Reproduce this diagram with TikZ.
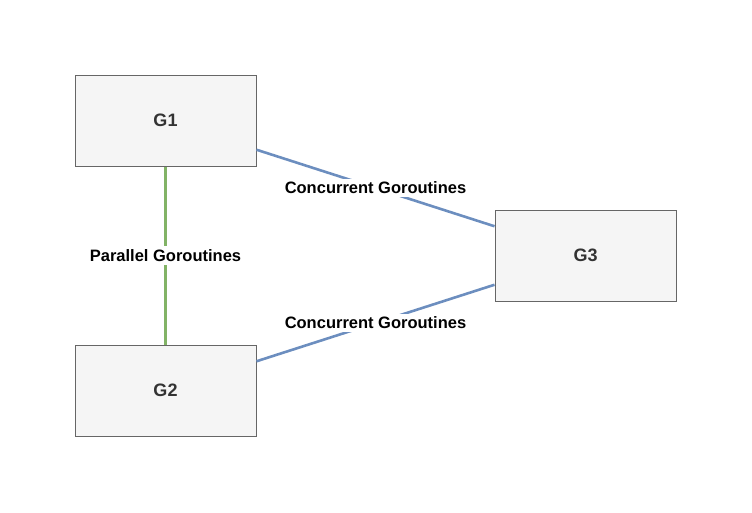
\documentclass[tikz,border=0pt]{standalone}
\usepackage{fontspec}
\setmainfont{Liberation Sans}
\usepackage{tikz}
\definecolor{boxfill}{HTML}{F5F5F5}
\definecolor{boxline}{HTML}{666666}
\definecolor{boxtext}{HTML}{333333}
\definecolor{concline}{HTML}{6C8EBF}
\definecolor{parline}{HTML}{82B366}

\begin{document}
\begin{tikzpicture}[x=1pt,y=-1pt]
	\tikzstyle{goroutine}=[rectangle,draw=boxline,fill=boxfill,line width=1pt,minimum width=181pt,minimum height=91pt,inner sep=0pt,text=boxtext,font=\fontsize{18}{20}\selectfont\bfseries]
	\tikzstyle{concurrent}=[draw=concline,line width=2.6pt]
	\tikzstyle{parallel}=[draw=parline,line width=2.6pt]
	\tikzstyle{annot}=[fill=white,inner sep=3pt,text=black,font=\fontsize{16.5}{18}\selectfont\bfseries]

	\useasboundingbox (0,0) rectangle (752,512);

	% Draw the goroutine boxes
	\node[goroutine] (G1) at (165.5,120.5) {G1};
	\node[goroutine] (G2) at (165.5,390.5) {G2};
	\node[goroutine] (G3) at (585.5,255.5) {G3};

	% Connect G1 and G2
	\path[parallel] (G1) -- (G2) node[annot,midway] (pl) {Parallel Goroutines};

	% Connect both with G3
	\path[concurrent] (G1) -- (G3) node[annot,midway] (cl1) {Concurrent Goroutines};
	\path[concurrent] (G2) -- (G3) node[annot,midway] (cl2) {Concurrent Goroutines};

\end{tikzpicture}
\end{document}
